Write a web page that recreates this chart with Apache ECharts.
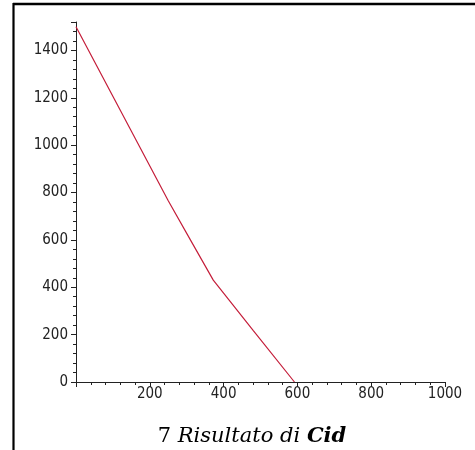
<!DOCTYPE html>
<html>
<head>
<meta charset="utf-8">
<script src="https://cdn.jsdelivr.net/npm/echarts@6/dist/echarts.min.js"></script>
<style>
html,body{margin:0;padding:0;background:#fff;}
#chart{width:475px;height:450px;}
</style>
</head>
<body>
<div id="chart"></div>
<script>
// Data
var xValues = [0, 120, 250, 310, 372, 480, 592];
var yValues = [1500, 1147, 765, 600, 430, 218, 0];
var xTickInterval = 200;
var yTickInterval = 200;
var titleParts = ['7 ', 'Risultato di ', 'Cid'];

var seriesData = xValues.map(function (x, i) { return [x, yValues[i]]; });

var axisColor = '#222';
var labelFont = "'Liberation Sans Narrow', 'DejaVu Sans Condensed', Arial, sans-serif";
var serifFont = "'DejaVu Serif', 'Liberation Serif', serif";
function plainNum(v) { return String(v); }

var chart = echarts.init(document.getElementById('chart'), null, {renderer: 'canvas'});
chart.setOption({
  animation: false,
  backgroundColor: '#fff',
  grid: {left: 76, right: 30, top: 22, bottom: 68, containLabel: false},
  title: {
    text: '{a|' + titleParts[0] + '}{b|' + titleParts[1] + '}{c|' + titleParts[2] + '}',
    left: 247,
    top: 421,
    textAlign: 'center',
    textStyle: {
      fontWeight: 'normal',
      rich: {
        a: {fontFamily: serifFont, fontSize: 21, fontWeight: 'normal', fontStyle: 'normal', color: '#000'},
        b: {fontFamily: serifFont, fontSize: 21, fontWeight: 'normal', fontStyle: 'italic', color: '#000'},
        c: {fontFamily: serifFont, fontSize: 21, fontStyle: 'italic', fontWeight: 'bold', color: '#000'}
      }
    }
  },
  xAxis: {
    type: 'value',
    min: 0,
    max: 1000,
    interval: xTickInterval,
    splitLine: {show: false},
    axisLine: {show: true, lineStyle: {color: axisColor, width: 1}},
    axisTick: {show: true, length: 5, lineStyle: {color: axisColor}},
    minorTick: {show: true, splitNumber: 5, length: 3, lineStyle: {color: axisColor}},
    axisLabel: {showMinLabel: false, margin: 5, color: '#222', fontSize: 15, fontFamily: labelFont, formatter: plainNum}
  },
  yAxis: {
    type: 'value',
    min: 0,
    max: 1520,
    interval: yTickInterval,
    splitLine: {show: false},
    axisLine: {show: true, lineStyle: {color: axisColor, width: 1}},
    axisTick: {show: true, length: 5, lineStyle: {color: axisColor}},
    minorTick: {show: true, splitNumber: 5, length: 3, lineStyle: {color: axisColor}},
    axisLabel: {showMaxLabel: false, margin: 8, color: '#222', fontSize: 15, fontFamily: labelFont, formatter: plainNum}
  },
  series: [{
    type: 'line',
    data: seriesData,
    showSymbol: false,
    symbol: 'none',
    lineStyle: {color: '#c41e3a', width: 1.2},
    z: 3
  }],
  graphic: [
    {type: 'line', shape: {x1: 13, y1: 4, x2: 475, y2: 4}, style: {stroke: '#000', lineWidth: 2.5}},
    {type: 'line', shape: {x1: 13.5, y1: 3, x2: 13.5, y2: 450}, style: {stroke: '#000', lineWidth: 2.2}}
  ]
});
</script>
</body>
</html>
